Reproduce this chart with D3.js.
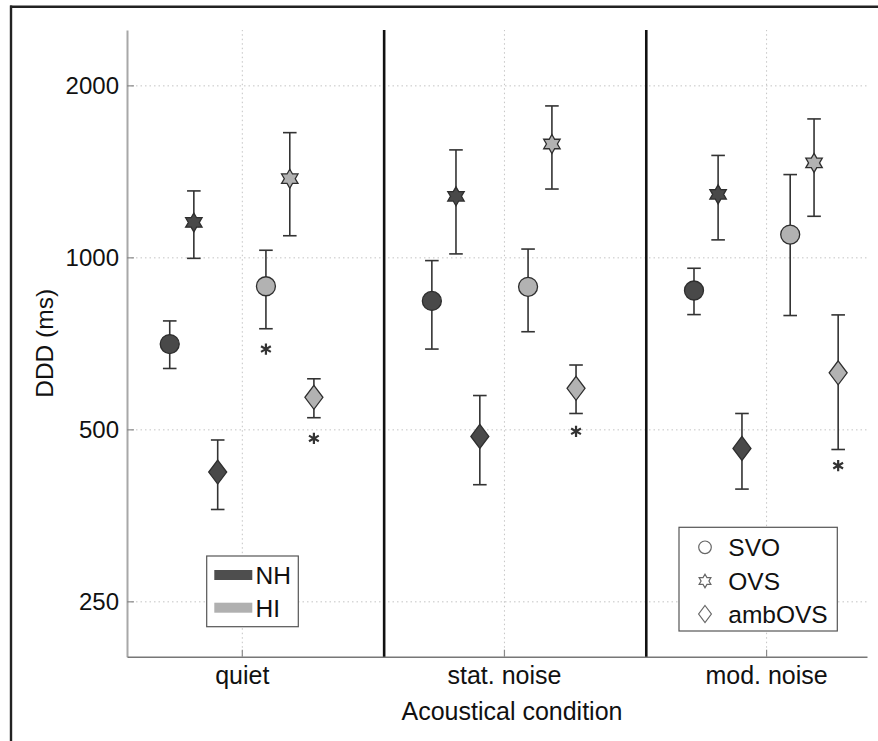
<!DOCTYPE html>
<html>
<head>
<meta charset="utf-8">
<script src="https://cdn.jsdelivr.net/npm/d3@7"></script>
<style>
  body { margin: 0; background: #fff; }
  svg { display: block; font-family: "Liberation Sans", Arial, Helvetica, sans-serif; }
</style>
</head>
<body>
<svg id="chart" width="878" height="741"></svg>
<script>
// ---------------- data ----------------
const conditions = ["quiet", "stat. noise", "mod. noise"];
const sentenceTypes = ["SVO", "OVS", "ambOVS"];
const groups = ["NH", "HI"];
const yTickValues = [250, 500, 1000, 2000];

// values per condition: [SVO, OVS, ambOVS]
const nhMean = [[705, 1151, 421], [839, 1279, 486], [875, 1289, 463]];
const nhLow  = [[639, 996, 362],  [691, 1014, 400], [794, 1073, 393]];
const nhHigh = [[774, 1307, 479], [987, 1542, 573], [957, 1508, 533]];

const hiMean = [[890, 1373, 569], [888, 1579, 590], [1096, 1463, 628]];
const hiLow  = [[750, 1091, 524], [741, 1317, 533], [791, 1180, 461]];
const hiHigh = [[1029, 1653, 613], [1034, 1841, 648], [1396, 1747, 793]];

// significance asterisks (HI group)
const starCondition = [0, 0, 1, 2];
const starType      = [0, 2, 2, 2];
const starValue     = [691, 482, 496, 432];

// ---------------- layout ----------------
const svg = d3.select("#chart");
const pLeft = 127, pRight = 867, pTop = 30, pBottom = 656.7;

const x = d3.scaleLinear().domain([0.562, 3.385]).range([pLeft, pRight]);
const y = d3.scaleLog().domain([200, 2500]).range([pBottom, pTop]);

const groupFill = { NH: "#494949", HI: "#b2b2b2" };
const offsets = { NH: [-0.275, -0.183, -0.092], HI: [0.092, 0.183, 0.275] };
const separators = [1.543, 2.543];

// custom symbol types
const hexagram = {
  draw(ctx, size) {
    const R = Math.sqrt(size), r = R / Math.sqrt(3);
    for (let k = 0; k < 12; k++) {
      const a = -Math.PI / 2 + k * Math.PI / 6;
      const rr = k % 2 === 0 ? R : r;
      const px = rr * Math.cos(a), py = rr * Math.sin(a);
      if (k === 0) ctx.moveTo(px, py); else ctx.lineTo(px, py);
    }
    ctx.closePath();
  }
};
const tallDiamond = {
  draw(ctx, size) {
    const R = Math.sqrt(size), w = R * 0.75;
    ctx.moveTo(0, -R); ctx.lineTo(w, 0); ctx.lineTo(0, R); ctx.lineTo(-w, 0); ctx.closePath();
  }
};
const asteriskType = d3.symbolAsterisk || {
  draw(ctx, size) {
    const r = Math.sqrt(size) * 0.6, t = r / 2, u = t * Math.sqrt(3);
    ctx.moveTo(0, r); ctx.lineTo(0, -r);
    ctx.moveTo(-u, -t); ctx.lineTo(u, t);
    ctx.moveTo(-u, t); ctx.lineTo(u, -t);
  }
};
const symbolTypes = [d3.symbolCircle, hexagram, tallDiamond];
const symbolSizes = [Math.PI * 9.5 * 9.5, 9.5 * 9.5, 12 * 12];
const legendSizes = [Math.PI * 6.3 * 6.3, 6.8 * 6.8, 8.5 * 8.5];

// ---------------- outer frame ----------------
svg.append("line").attr("x1", 10).attr("x2", 878).attr("y1", 6.7).attr("y2", 6.7)
  .attr("stroke", "#222").attr("stroke-width", 2.4);
svg.append("line").attr("x1", 11).attr("x2", 11).attr("y1", 5.5).attr("y2", 741)
  .attr("stroke", "#222").attr("stroke-width", 2.4);

// ---------------- grid ----------------
const gridY = svg.append("g").attr("transform", `translate(${pLeft},0)`)
  .call(d3.axisLeft(y).tickValues(yTickValues).tickSize(-(pRight - pLeft)).tickFormat(""));
gridY.select(".domain").remove();
gridY.selectAll("line").attr("stroke", "#c4c4c4").attr("stroke-width", 1).attr("stroke-dasharray", "1.5,3");

const gridX = svg.append("g").attr("transform", `translate(0,${pBottom})`)
  .call(d3.axisBottom(x).tickValues([1, 2, 3]).tickSize(-(pBottom - pTop)).tickFormat(""));
gridX.select(".domain").remove();
gridX.selectAll("line").attr("stroke", "#c4c4c4").attr("stroke-width", 1).attr("stroke-dasharray", "1.5,3");

// ---------------- axes ----------------
const yAxis = svg.append("g").attr("transform", `translate(${pLeft},0)`)
  .call(d3.axisLeft(y).tickValues(yTickValues).tickFormat(d3.format("d"))
    .tickSizeInner(-7).tickSizeOuter(0).tickPadding(8));
yAxis.select(".domain").attr("stroke", "#a8a8a8").attr("stroke-width", 2);
yAxis.selectAll(".tick line").attr("stroke", "#8a8a8a").attr("stroke-width", 1.2);
yAxis.selectAll("text").attr("font-size", 24).attr("fill", "#111")
  .attr("font-family", "Liberation Sans, Arial, sans-serif");

const xAxis = svg.append("g").attr("transform", `translate(0,${pBottom})`)
  .call(d3.axisBottom(x).tickValues([1, 2, 3]).tickFormat(d => conditions[d - 1])
    .tickSizeInner(-7).tickSizeOuter(0).tickPadding(9.9));
xAxis.select(".domain").attr("stroke", "#777").attr("stroke-width", 1.5);
xAxis.selectAll(".tick line").attr("stroke", "#8a8a8a").attr("stroke-width", 1.2);
xAxis.selectAll("text").attr("font-size", 25).attr("fill", "#111")
  .attr("font-family", "Liberation Sans, Arial, sans-serif");

// separators
svg.append("g").selectAll("line").data(separators).join("line")
  .attr("x1", d => x(d)).attr("x2", d => x(d))
  .attr("y1", pTop).attr("y2", pBottom)
  .attr("stroke", "#111").attr("stroke-width", 2.6);

// axis titles
svg.append("text").attr("x", 512).attr("y", 720).attr("text-anchor", "middle")
  .attr("font-size", 25).attr("fill", "#111").text("Acoustical condition");
svg.append("text").attr("transform", `translate(53,${(pTop + pBottom) / 2}) rotate(-90)`)
  .attr("text-anchor", "middle").attr("font-size", 24.5).attr("fill", "#111").text("DDD (ms)");

// ---------------- points ----------------
const points = [];
groups.forEach(g => {
  const M = g === "NH" ? nhMean : hiMean;
  const L = g === "NH" ? nhLow : hiLow;
  const H = g === "NH" ? nhHigh : hiHigh;
  conditions.forEach((c, ci) => {
    sentenceTypes.forEach((s, si) => {
      points.push({ group: g, ci, si, mean: M[ci][si], low: L[ci][si], high: H[ci][si],
        xv: ci + 1 + offsets[g][si] });
    });
  });
});

const capHalf = 6.8;
const eb = svg.append("g").attr("stroke", "#333").attr("stroke-width", 1.6).attr("fill", "none");
eb.selectAll("line.v").data(points).join("line").attr("class", "v")
  .attr("x1", d => x(d.xv)).attr("x2", d => x(d.xv))
  .attr("y1", d => y(d.low)).attr("y2", d => y(d.high));
eb.selectAll("line.t").data(points).join("line").attr("class", "t")
  .attr("x1", d => x(d.xv) - capHalf).attr("x2", d => x(d.xv) + capHalf)
  .attr("y1", d => y(d.high)).attr("y2", d => y(d.high));
eb.selectAll("line.b").data(points).join("line").attr("class", "b")
  .attr("x1", d => x(d.xv) - capHalf).attr("x2", d => x(d.xv) + capHalf)
  .attr("y1", d => y(d.low)).attr("y2", d => y(d.low));

svg.append("g").selectAll("path").data(points).join("path")
  .attr("transform", d => `translate(${x(d.xv)},${y(d.mean)})`)
  .attr("d", d => d3.symbol().type(symbolTypes[d.si]).size(symbolSizes[d.si])())
  .attr("fill", d => groupFill[d.group])
  .attr("stroke", "#2e2e2e").attr("stroke-width", 1.3);

// asterisks
svg.append("g").selectAll("path").data(starValue).join("path")
  .attr("transform", (v, i) => `translate(${x(starCondition[i] + 1 + offsets.HI[starType[i]])},${y(v)})`)
  .attr("d", d3.symbol().type(asteriskType).size(90)())
  .attr("fill", "none").attr("stroke", "#333").attr("stroke-width", 2.2);

// ---------------- legends ----------------
// group legend
const lg1 = svg.append("g");
lg1.append("rect").attr("x", 206.7).attr("y", 556).attr("width", 91.6).attr("height", 70.7)
  .attr("fill", "#fff").attr("stroke", "#555").attr("stroke-width", 1.2);
const lg1Y = [575, 607.7];
lg1.selectAll("rect.sw").data(groups).join("rect").attr("class", "sw")
  .attr("x", 214.3).attr("width", 38).attr("y", (d, i) => lg1Y[i] - 5).attr("height", 10)
  .attr("fill", d => d === "NH" ? "#4e4e4e" : "#b0b0b0");
lg1.selectAll("text").data(groups).join("text")
  .attr("x", 255.5).attr("y", (d, i) => lg1Y[i] + 9.3)
  .attr("font-size", 24.5).attr("fill", "#111").text(d => d);

// sentence type legend
const lg2 = svg.append("g");
lg2.append("rect").attr("x", 679).attr("y", 527.3).attr("width", 158.3).attr("height", 103.7)
  .attr("fill", "#fff").attr("stroke", "#555").attr("stroke-width", 1.2);
const lg2Y = [547.3, 581, 614];
lg2.selectAll("path").data(sentenceTypes).join("path")
  .attr("transform", (d, i) => `translate(705,${lg2Y[i]})`)
  .attr("d", (d, i) => d3.symbol().type(symbolTypes[i]).size(legendSizes[i])())
  .attr("fill", "#fff").attr("stroke", "#666").attr("stroke-width", 1.2);
lg2.selectAll("text").data(sentenceTypes).join("text")
  .attr("x", 728.3).attr("y", (d, i) => lg2Y[i] + 8.5)
  .attr("font-size", 24.5).attr("fill", "#111").text(d => d);
</script>
</body>
</html>
